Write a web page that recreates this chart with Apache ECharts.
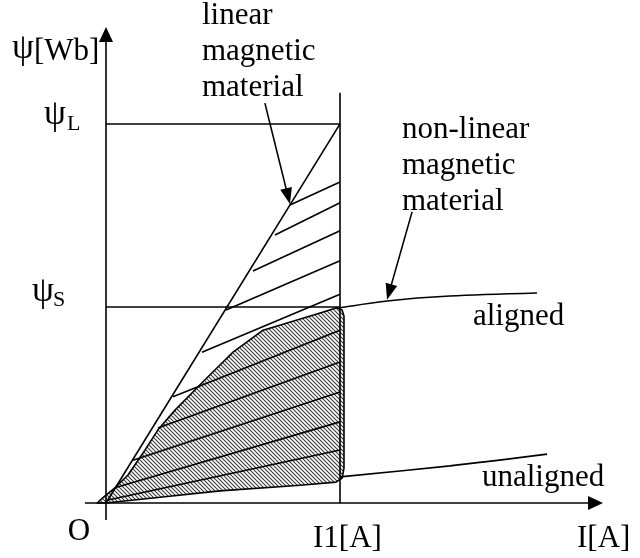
<!DOCTYPE html>
<html><head><meta charset="utf-8">
<script src="https://cdn.jsdelivr.net/npm/echarts@6/dist/echarts.min.js"></script>
<style>html,body{margin:0;padding:0;background:#fff}#c{width:640px;height:558px}</style>
</head><body><div id="c"></div>
<script>
// Schematic units: I1 = 10 on the current axis, psiL = 10 on the flux axis
const I1 = 10;
const psiL = 10;
const psiS = 5.17;
const axisXEnds = [-0.9, 21.24];
const axisYEnds = [-0.45, 12.56];
const i1Top = 10.82;
const linearLine = [[0, 0], [10, 10]];
const hatchLeft = [[7.86, 7.86], [7.22, 7.07], [6.28, 6.12], [5.13, 5.09], [4.10, 3.98],
                   [2.86, 2.80], [2.22, 1.98], [1.15, 1.13], [0.38, 0.40], [0.09, 0.08]];
const hatchRightY = [8.47, 7.92, 7.18, 6.39, 5.51, 4.56, 3.72, 2.93, 2.14, 1.40];
const shadedRegion = [[-0.38, 0], [-0.09, 0.16], [0.38, 0.40], [0.94, 0.74], [1.67, 1.40],
  [2.22, 1.93], [2.95, 2.45], [4.23, 3.25], [4.87, 3.64], [5.43, 3.98], [6.71, 4.56],
  [7.74, 4.75], [9.15, 5.01], [9.87, 5.15], [10.09, 5.09], [10.17, 4.93], [10.17, 0.92],
  [10.09, 0.66], [9.83, 0.55], [8.29, 0.47], [4.87, 0.32], [2.31, 0.15], [0, 0]];
const alignedTail = [[10.0, 5.15], [12.01, 5.33], [14.70, 5.46], [18.42, 5.54]];
const unalignedTail = [[10.0, 0.69], [14.70, 0.98], [18.85, 1.29]];
const pointerLinear = [6.79, 10.55, 7.86, 7.89];
const pointerNonlinear = [13.08, 7.68, 12.01, 5.36];

// segments [x1, y1, x2, y2]
const segments = [
  [I1, 0, I1, i1Top],
  [0, psiL, I1, psiL],
  [0, psiS, I1, psiS],
  [linearLine[0][0], linearLine[0][1], linearLine[1][0], linearLine[1][1]]
].concat(hatchLeft.map((p, i) => [p[0], p[1], I1, hatchRightY[i]]));

const axisArrows = [
  [axisXEnds[0], 0, axisXEnds[1], 0],
  [0, axisYEnds[0], 0, axisYEnds[1]]
];
const pointerArrows = [pointerLinear, pointerNonlinear];

// hatch pattern
const pat = document.createElement('canvas');
pat.width = 4; pat.height = 4;
const g = pat.getContext('2d');
g.fillStyle = '#fff'; g.fillRect(0, 0, 4, 4);
g.strokeStyle = '#3a3a3a'; g.lineWidth = 1.1;
g.beginPath();
g.moveTo(-1, -1); g.lineTo(5, 5);
g.moveTo(3, -1); g.lineTo(5, 1);
g.moveTo(-1, 3); g.lineTo(1, 5);
g.stroke();

const LW = 1.6;
function arrowRender(headW, headL) {
  return function (params, api) {
    const p1 = api.coord([api.value(0), api.value(1)]);
    const p2 = api.coord([api.value(2), api.value(3)]);
    const dx = p2[0] - p1[0], dy = p2[1] - p1[1];
    const len = Math.sqrt(dx * dx + dy * dy);
    const ux = dx / len, uy = dy / len;
    const bx = p2[0] - ux * headL, by = p2[1] - uy * headL;
    const nx = -uy, ny = ux;
    return {
      type: 'group',
      children: [
        { type: 'line', shape: { x1: p1[0], y1: p1[1], x2: bx + ux * 2, y2: by + uy * 2 },
          style: { stroke: '#000', lineWidth: LW } },
        { type: 'polygon', shape: { points: [[p2[0], p2[1]],
            [bx + nx * headW / 2, by + ny * headW / 2], [bx - nx * headW / 2, by - ny * headW / 2]] },
          style: { fill: '#000' } }
      ]
    };
  };
}

const font = '"Liberation Serif", "Times New Roman", serif';
function txt(s, x, baseline, size, align) {
  return { type: 'text', x: x, y: baseline - 0.34 * size,
    style: { text: s, font: size + 'px ' + font, fill: '#000',
      align: align || 'left', verticalAlign: 'middle' } };
}

const chart = echarts.init(document.getElementById('c'), null, { renderer: 'canvas' });
chart.setOption({
  animation: false,
  backgroundColor: '#fff',
  grid: { left: 0, right: 0, top: 0, bottom: 0 },
  xAxis: { type: 'value', min: -4.53, max: 22.82, show: false },
  yAxis: { type: 'value', min: -1.451, max: 13.27, show: false },
  series: [
    {
      type: 'custom', z: 1, data: [[0, 0]],
      renderItem: function (params, api) {
        return { type: 'polygon', shape: { points: shadedRegion.map(p => api.coord(p)) },
          style: { fill: { image: pat, repeat: 'repeat' }, stroke: '#000', lineWidth: LW, lineJoin: 'round' } };
      }
    },
    {
      type: 'custom', z: 2, data: segments,
      encode: { x: [0, 2], y: [1, 3] },
      renderItem: function (params, api) {
        const p1 = api.coord([api.value(0), api.value(1)]);
        const p2 = api.coord([api.value(2), api.value(3)]);
        return { type: 'line', shape: { x1: p1[0], y1: p1[1], x2: p2[0], y2: p2[1] },
          style: { stroke: '#000', lineWidth: LW } };
      }
    },
    { type: 'line', z: 3, data: alignedTail, showSymbol: false, smooth: 0.3,
      lineStyle: { color: '#000', width: LW } },
    { type: 'line', z: 3, data: unalignedTail, showSymbol: false, smooth: 0.3,
      lineStyle: { color: '#000', width: LW } },
    { type: 'custom', z: 4, data: axisArrows, encode: { x: [0, 2], y: [1, 3] },
      renderItem: arrowRender(14, 15) },
    { type: 'custom', z: 4, data: pointerArrows, encode: { x: [0, 2], y: [1, 3] },
      renderItem: arrowRender(12, 16) }
  ],
  graphic: [
    txt('ψ', 12, 61, 35), txt('[Wb]', 34, 62, 31),
    txt('ψ', 44, 127, 35), txt('L', 67, 132, 22),
    txt('ψ', 32, 304, 35), txt('S', 53, 308, 22),
    txt('O', 79, 542, 31, 'center'),
    txt('I1[A]', 313, 549, 31),
    txt('I[A]', 577, 549, 31),
    txt('aligned', 473, 327, 31),
    txt('unaligned', 482, 488, 31),
    txt('linear', 202, 26, 31), txt('magnetic', 202, 62, 31), txt('material', 202, 98, 31),
    txt('non-linear', 402, 140, 31), txt('magnetic', 402, 176, 31), txt('material', 402, 212, 31)
  ]
});
</script>
</body></html>
